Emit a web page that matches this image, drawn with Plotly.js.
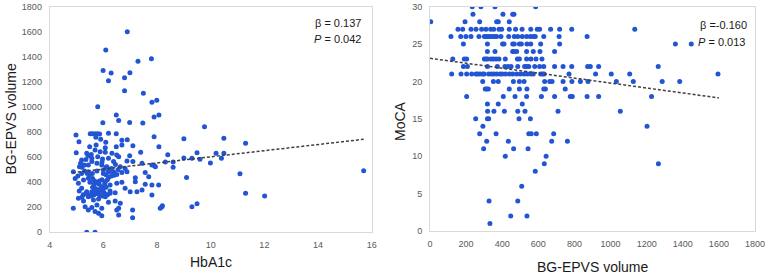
<!DOCTYPE html>
<html>
<head>
<meta charset="utf-8">
<script src="https://cdn.plot.ly/plotly-3.0.1.min.js"></script>
<style>html,body{margin:0;padding:0;background:#fff;}#chart{width:767px;height:276px;}</style>
</head>
<body>
<div id="chart"></div>
<script>
// ---- Left panel: HbA1c vs BG-EPVS volume ----
const hba1c = [6.89,6.09,7.29,7.79,5.99,6.29,6.99,6.19,6.79,6.79,7.49,7.81,7.99,5.79,6.48,8.07,7.89,6.57,5.98,6.98,7.47,
  4.98,5.51,5.59,5.69,5.78,5.86,5.72,6.19,6.48,5.90,6.89,6.69,7.89,5.09,5.49,5.73,6.09,6.07,6.48,6.69,7.10,8.07,
  4.99,5.38,5.69,5.88,6.07,6.32,6.50,7.39,6.98,5.19,5.42,5.57,5.79,5.97,6.19,6.38,6.57,6.88,7.10,7.44,7.81,7.89,
  5.57,5.11,5.29,5.44,5.76,5.94,6.13,6.63,6.81,7.94,4.88,5.19,5.44,5.59,5.76,6.00,6.19,6.38,6.50,6.69,6.88,7.19,
  7.56,7.69,8.31,5.07,5.26,5.44,5.67,5.76,5.84,5.94,6.07,6.25,6.50,6.69,7.00,7.25,7.44,7.56,7.81,8.06,5.19,5.38,
  5.57,5.69,5.82,6.00,6.25,6.44,6.81,7.19,7.81,5.07,5.26,5.44,5.63,5.82,6.07,6.19,6.44,6.63,5.32,5.57,5.76,5.94,
  8.18,8.12,4.88,5.44,5.69,5.82,5.94,6.50,6.57,7.09,7.09,6.57,5.38,5.69,
  5.6,5.7,5.8,5.9,6.0,6.1,5.65,5.75,5.85,5.95,6.05,6.15,6.2,6.3,6.35,6.4,5.5,5.4,5.3,5.2,5.15,5.35,5.45,5.55,
  5.25,5.35,5.45,5.55,5.65,5.75,5.85,5.95,6.05,6.15,6.25,5.05,4.95,5.1,5.2,6.1,6.2,6.3,6.45,6.55,6.1,5.95,6.0,5.6,5.5,
  9.0,8.4,9.49,9.3,9.0,8.6,8.6,9.1,8.2,9.3,9.49,10.49,11.30,10.2,10.49,9.6,10.40,9.99,11.09,15.70,11.30,12.01,9.77];
const bgVolume = [1601,1455,1364,1385,1290,1271,1274,1210,1234,1130,1109,1037,1053,1002,936,936,920,893,875,877,872,
  776,787,787,787,787,784,758,790,787,742,739,734,763,723,683,697,718,675,683,697,691,683,
  635,630,657,643,638,630,617,638,611,577,617,590,603,585,590,564,603,569,564,550,537,532,
  564,524,537,537,550,537,524,524,510,524,484,470,484,470,489,497,484,484,462,478,484,436,
  478,444,560,391,417,431,409,399,383,364,404,377,391,399,324,324,337,383,377,377,351,324,
  324,337,324,324,311,316,351,404,298,271,250,284,258,266,284,239,250,231,204,197,218,191,
  204,191,191,178,165,151,133,178,138,178,117,191,0,0,
  360,350,340,345,350,360,380,395,410,420,390,420,440,450,470,455,460,470,490,520,550,580,610,620,
  300,310,300,290,300,310,300,290,310,300,330,450,430,330,280,460,500,510,540,500,520,560,470,430,400,
  747,619,635,590,592,560,520,437,211,204,228,750,710,630,630,582,590,553,468,492,311,290,843];
const trend1X = [4.86, 15.7];
const trend1Y = [476, 742];

// ---- Right panel: BG-EPVS volume vs MoCA (grouped by MoCA score) ----
const mocaScores = [30,29,28,27,26,25,24,23,22,21,20,19,18,17,16,15,14,13,12,11,10,9,8,6,4,2,1];
const volumesByScore = [
  [234,282,360,585],
  [238,404,458,465],
  [4,194,275,369,378,439],
  [155,181,227,255,286,310,336,353,382,397,439,474,510,558,594,607,668,718,785,1134],
  [116,170,199,227,271,301,310,321,332,345,358,369,393,436,467,486,511,535,556,572,583,630,715,870],
  [185,318,402,410,458,467,495,506,537,558,613,718,1359,1447],
  [318,360,458,465,480,535,572,609,690],
  [126,190,203,301,310,319,338,351,366,382,417,484,495,535,559,587,620],
  [185,207,318,373,415,432,449,486,524,535,547,580,607,630,690,737,785,873,888,934,1264],
  [120,172,203,231,255,264,277,292,300,325,340,354,369,388,400,419,440,458,480,500,521,540,560,572,613,624,632,770,917,1004,1106,1595],
  [292,351,378,462,495,521,635,663,676,737,786,833,875,1032,1126,1286,1383],
  [306,314,323,439,495,537,630,639,749],
  [203,406,471,535,617,690,777,788,870,934,1227],
  [318,378,511],
  [319,354,412,486,526,709,1054],
  [253,318,325,493,556],
  [293,1202],
  [275,366,547,561,589,685],
  [314,434,674,761],
  [297,463,543],
  [417,643],
  [633,1265],
  [583],
  [508],
  [327,486],
  [447,537],
  [332]
];
const trend2X = [0, 1600];
const trend2Y = [23.1, 17.8];

const xLabelLeft = 'HbA1c', yLabelLeft = 'BG-EPVS volume';
const xLabelRight = 'BG-EPVS volume', yLabelRight = 'MoCA';

// build flat arrays for the library
const mocaX = [], mocaY = [];
volumesByScore.forEach((row, i) => row.forEach(v => { mocaX.push(v); mocaY.push(mocaScores[i]); }));

const dotColor = '#2155d3';
const traces = [
  {x: hba1c, y: bgVolume, type: 'scatter', mode: 'markers', xaxis: 'x', yaxis: 'y',
   marker: {color: dotColor, size: 5}},
  {x: trend1X, y: trend1Y, type: 'scatter', mode: 'lines', xaxis: 'x', yaxis: 'y',
   line: {color: '#404040', width: 1.5, dash: '3px,2px'}},
  {x: mocaX, y: mocaY, type: 'scatter', mode: 'markers', xaxis: 'x2', yaxis: 'y2',
   marker: {color: dotColor, size: 5}},
  {x: trend2X, y: trend2Y, type: 'scatter', mode: 'lines', xaxis: 'x2', yaxis: 'y2',
   line: {color: '#404040', width: 1.5, dash: '3px,2px'}}
];

const tickFont = {family: 'Liberation Sans, Arial, sans-serif', size: 9, color: '#595959'};
const axBase = {showgrid: false, zeroline: false, showline: true, mirror: true,
  linecolor: '#d9d9d9', linewidth: 1, ticks: '', tickfont: tickFont, automargin: false, fixedrange: true};
const titleFont = {family: 'Liberation Sans, Arial, sans-serif', size: 14, color: '#1a1a1a'};
const annFont = {family: 'Liberation Sans, Arial, sans-serif', size: 11, color: '#1a1a1a'};

const W = 767, H = 276;
function px(x){return x / W;}
function py(y){return 1 - y / H;}

const layout = {
  width: W, height: H,
  margin: {l: 0, r: 0, t: 0, b: 0},
  paper_bgcolor: '#fff', plot_bgcolor: '#fff',
  showlegend: false,
  xaxis: Object.assign({}, axBase, {domain: [px(49.7), px(371.7)], range: [4, 16], tick0: 4, dtick: 2, anchor: 'y', ticklabelstandoff: 4}),
  yaxis: Object.assign({}, axBase, {domain: [py(232.3), py(6.7)], range: [0, 1800], tick0: 0, dtick: 200, anchor: 'x', ticklabelstandoff: 5}),
  xaxis2: Object.assign({}, axBase, {domain: [px(430), px(755)], range: [0, 1800], tick0: 0, dtick: 200, anchor: 'y2', ticklabelstandoff: 4}),
  yaxis2: Object.assign({}, axBase, {domain: [py(231), py(6.7)], range: [0, 30], tick0: 0, dtick: 5, anchor: 'x2', ticklabelstandoff: 5}),
  annotations: [
    {text: yLabelLeft, xref: 'paper', yref: 'paper', x: px(10), y: py(119.5), textangle: -90, showarrow: false, font: titleFont, xanchor: 'center', yanchor: 'middle'},
    {text: xLabelLeft, xref: 'paper', yref: 'paper', x: px(210.5), y: py(262), showarrow: false, font: titleFont, xanchor: 'center', yanchor: 'middle'},
    {text: yLabelRight, xref: 'paper', yref: 'paper', x: px(400), y: py(121), textangle: -90, showarrow: false, font: titleFont, xanchor: 'center', yanchor: 'middle'},
    {text: xLabelRight, xref: 'paper', yref: 'paper', x: px(592.5), y: py(267), showarrow: false, font: titleFont, xanchor: 'center', yanchor: 'middle'},
    {text: 'β = 0.137', xref: 'paper', yref: 'paper', x: px(312.5), y: py(23), showarrow: false, font: annFont, xanchor: 'left', yanchor: 'middle'},
    {text: '<i>P</i> = 0.042', xref: 'paper', yref: 'paper', x: px(312), y: py(39), showarrow: false, font: annFont, xanchor: 'left', yanchor: 'middle'},
    {text: 'β =-0.160', xref: 'paper', yref: 'paper', x: px(697.5), y: py(25), showarrow: false, font: annFont, xanchor: 'left', yanchor: 'middle'},
    {text: '<i>P</i> = 0.013', xref: 'paper', yref: 'paper', x: px(696), y: py(42), showarrow: false, font: annFont, xanchor: 'left', yanchor: 'middle'}
  ]
};

Plotly.newPlot('chart', traces, layout, {staticPlot: true, displayModeBar: false});
</script>
</body>
</html>
